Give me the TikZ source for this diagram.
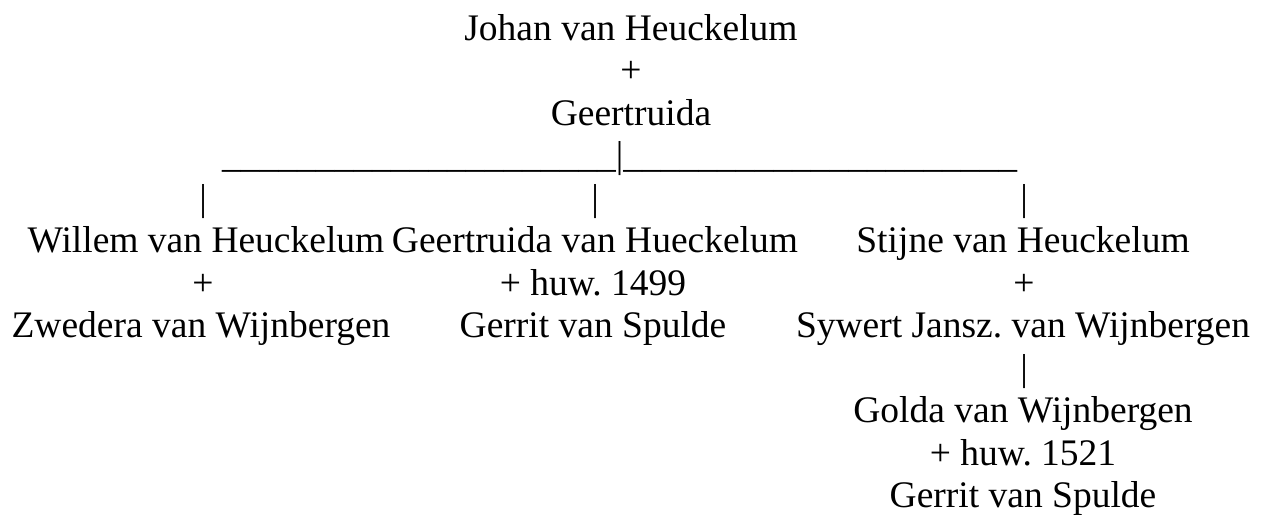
\documentclass[tikz,border=0pt]{standalone}
\usepackage{fontspec}
\setmainfont{Liberation Serif}
\frenchspacing
\tikzset{
  t/.style={anchor=base, inner sep=0pt, outer sep=0pt, font=\fontsize{37.5pt}{42.5pt}\selectfont\frenchspacing, text=black}
}
\newcommand{\usc}{\_\_\_\_\_\_\_\_\_\_\_\_\_\_\_\_\_\_\_\_\_}
\begin{document}
\begin{tikzpicture}[x=1pt,y=1pt]
\useasboundingbox (0,0) rectangle (1265,-514);
% parents
\node[t] (johan) at (631,-40) {Johan van Heuckelum};
\node[t] (plusA) at (631,-82.5) {+};
\node[t] (geertA) at (631,-125) {Geertruida};
% branch line
\node[t, anchor=base west] (branch) at (222,-167.5) {\usc|\usc};
\node[t] (barL) at (203,-210) {|};
\node[t] (barM) at (595,-210) {|};
\node[t] (barR) at (1024,-210) {|};
% column 1
\node[t] (willem) at (206,-252.5) {Willem van Heuckelum};
\node[t] (plusW) at (203,-295) {+};
\node[t] (zwedera) at (201,-337.5) {Zwedera van Wijnbergen};
% column 2
\node[t] (geertB) at (595,-252.5) {Geertruida van Hueckelum};
\node[t] (huwA) at (593,-295) {+ huw. 1499};
\node[t] (gerritA) at (593,-337.5) {Gerrit van Spulde};
% column 3
\node[t] (stijne) at (1023,-252.5) {Stijne van Heuckelum};
\node[t] (plusS) at (1024,-295) {+};
\node[t] (sywert) at (1023,-337.5) {Sywert Jansz. van Wijnbergen};
\node[t] (barG) at (1024,-380) {|};
\node[t] (golda) at (1023,-422.5) {Golda van Wijnbergen};
\node[t] (huwB) at (1023,-465) {+ huw. 1521};
\node[t] (gerritB) at (1023,-507.5) {Gerrit van Spulde};
\end{tikzpicture}
\end{document}
